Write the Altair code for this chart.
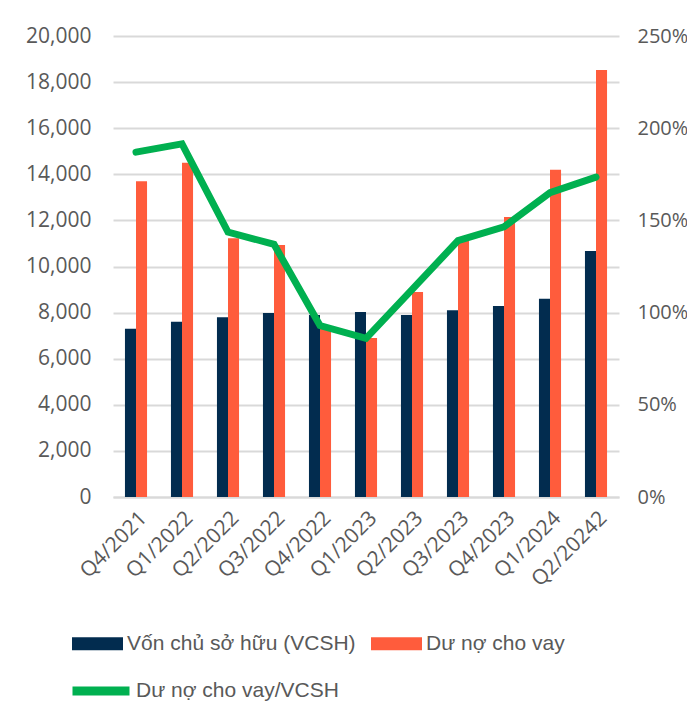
import altair as alt
import pandas as pd

quarters = ["Q4/2021", "Q1/2022", "Q2/2022", "Q3/2022", "Q4/2022", "Q1/2023",
            "Q2/2023", "Q3/2023", "Q4/2023", "Q1/2024", "Q2/20242"]
vcsh = [7300, 7600, 7800, 7980, 7900, 8030, 7900, 8100, 8290, 8600, 10670]
du_no = [13700, 14500, 11230, 10930, 7300, 6900, 8890, 11200, 12150, 14200, 18520]
ratio = [1.87, 1.915, 1.437, 1.37, 0.93, 0.86, 1.125, 1.39, 1.465, 1.65, 1.735]

S1 = "Vốn chủ sở hữu (VCSH)"
S2 = "Dư nợ cho vay"
S3 = "Dư nợ cho vay/VCSH"

bars = pd.DataFrame({
    "q": quarters * 2,
    "series": [S1] * len(quarters) + [S2] * len(quarters),
    "value": vcsh + du_no,
})
line = pd.DataFrame({"q": quarters, "ratio": ratio, "series": [S3] * len(quarters)})

AX_FONT = "Open Sans"
LG_FONT = "Liberation Sans"
GREY = "#595959"
GRID = "#d9d9d9"

xenc = alt.X("q:N", sort=quarters, title=None,
             scale=alt.Scale(paddingInner=0.52, paddingOuter=0.26),
             axis=alt.Axis(labelAngle=-45, labelFont=AX_FONT, labelFontSize=21,
                           labelColor=GREY, ticks=False, domain=True,
                           domainColor=GRID, domainWidth=2, labelPadding=10))

bar = alt.Chart(bars).mark_bar().encode(
    x=xenc,
    xOffset=alt.XOffset("series:N", sort=[S1, S2]),
    y=alt.Y("value:Q", title=None,
            scale=alt.Scale(domain=[0, 20000], nice=False),
            axis=alt.Axis(values=list(range(0, 20001, 2000)), format=",.0f",
                          labelFont=AX_FONT, labelFontSize=21, labelColor=GREY,
                          ticks=False, domain=False, labelPadding=22,
                          grid=True, gridColor=GRID, gridWidth=2)),
    color=alt.Color("series:N", sort=[S1, S2],
                    scale=alt.Scale(domain=[S1, S2], range=["#022c4f", "#ff5c3c"]),
                    legend=alt.Legend(title=None, orient="none", direction="horizontal",
                                      legendX=-41, legendY=582,
                                      symbolType="M-1,-0.255L1,-0.255L1,0.255L-1,0.255Z",
                                      symbolSize=2601, symbolStrokeWidth=0,
                                      labelFont=LG_FONT, labelFontSize=21,
                                      labelColor=GREY, labelOffset=4,
                                      columnPadding=15, labelLimit=400)),
)

ln = alt.Chart(line).mark_line(strokeWidth=7, strokeCap="round", strokeJoin="miter").encode(
    x=alt.X("q:N", sort=quarters),
    y=alt.Y("ratio:Q", title=None,
            scale=alt.Scale(domain=[0, 2.5], nice=False),
            axis=alt.Axis(orient="right", values=[0, 0.5, 1, 1.5, 2, 2.5], format=".0%",
                          labelFont=AX_FONT, labelFontSize=20, labelColor=GREY,
                          ticks=False, domain=False, labelPadding=18, grid=False)),
    stroke=alt.Stroke("series:N",
                      scale=alt.Scale(domain=[S3], range=["#00b050"]),
                      legend=alt.Legend(title=None, orient="none",
                                        legendX=-45, legendY=622,
                                        symbolType="stroke", symbolSize=3249,
                                        symbolStrokeWidth=9,
                                        labelFont=LG_FONT, labelFontSize=21,
                                        labelColor=GREY, labelOffset=2, labelLimit=400)),
)

frame_df = pd.DataFrame({"k": [0]})
frame_v = alt.Chart(frame_df).mark_rule(color=GRID, strokeWidth=2).encode(
    x=alt.value(-108), y=alt.value(-29), y2=alt.value(680))
frame_h = alt.Chart(frame_df).mark_rule(color=GRID, strokeWidth=2).encode(
    y=alt.value(-29), x=alt.value(-108), x2=alt.value(590))

chart = alt.layer(frame_v, frame_h, bar, ln).resolve_scale(
    y="independent", color="independent"
).properties(
    width=506, height=461,
    padding={"left": 105, "top": 28, "right": 68, "bottom": 205},
    autosize=alt.AutoSizeParams(type="none"),
    background="white",
).configure_view(stroke=None)

chart.save("out.html", embed_options={"renderer": "svg", "actions": False})
